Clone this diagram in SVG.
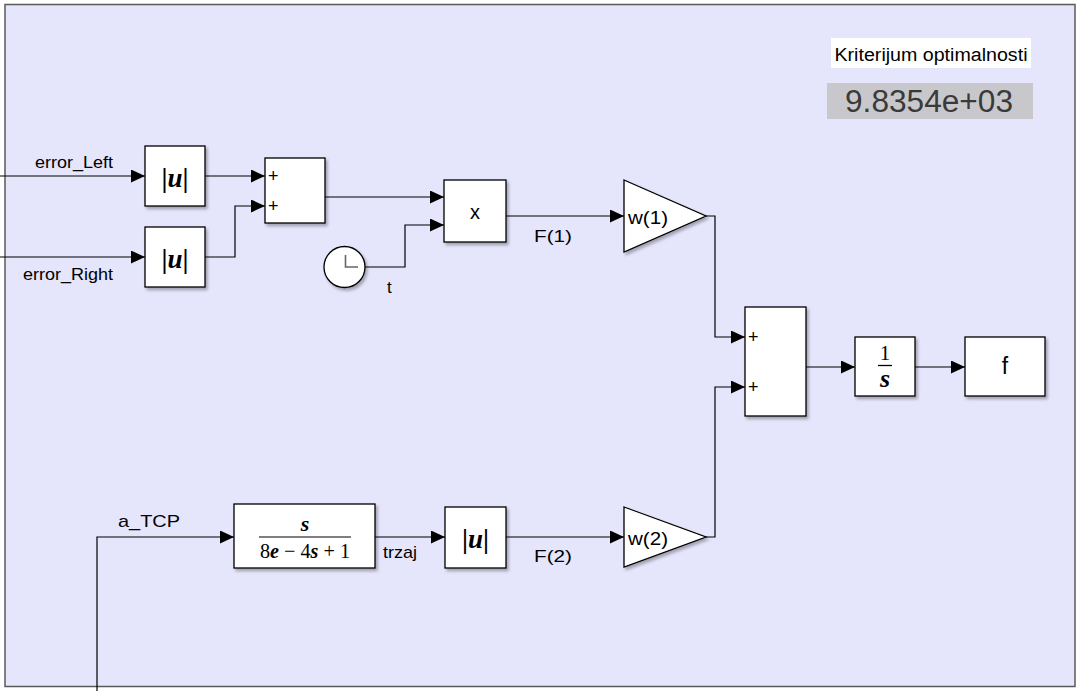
<svg xmlns="http://www.w3.org/2000/svg" width="1081" height="691" viewBox="0 0 1081 691">
  <defs>
    <style>
      .blk { fill: #ffffff; stroke: #000000; stroke-width: 1.3; filter: url(#shadow); }
      .wire { fill: none; stroke: #000000; stroke-width: 1.2; marker-end: url(#arrow); }
      .lbl { font-family: "Liberation Sans", Arial, sans-serif; fill: #000000; }
      .sig { font-size: 17px; }
      .sign { font-family: "Liberation Sans", Arial, sans-serif; font-size: 18px; fill: #000000; }
      .math { font-family: "Liberation Serif", "Times New Roman", serif; fill: #000000; }
      .mi { font-style: italic; font-weight: bold; }
    </style>
    <marker id="arrow" viewBox="0 0 14 13" refX="14" refY="6.5" markerWidth="14" markerHeight="13" markerUnits="userSpaceOnUse" orient="auto">
      <path d="M0,0 L14,6.5 L0,13 Z" fill="#000000"/>
    </marker>
    <filter id="shadow" x="-20%" y="-20%" width="150%" height="150%">
      <feDropShadow dx="2" dy="2.5" stdDeviation="1.5" flood-color="#000000" flood-opacity="0.3"/>
    </filter>
  </defs>

  <!-- model canvas -->
  <rect x="0" y="0" width="1081" height="691" fill="#ffffff"/>
  <rect x="5" y="4.5" width="1070" height="682" fill="#e5e5fc" stroke="#5a5a5a" stroke-width="1.5"/>

  <!-- signal lines -->
  <g id="connectors">
    <path class="wire" d="M0,176 H145"/>
    <path class="wire" d="M0,257 H145"/>
    <path class="wire" d="M205,176 H265"/>
    <path class="wire" d="M205,257 H235 V206 H265"/>
    <path class="wire" d="M325,197 H444"/>
    <path class="wire" d="M365,267 H405 V225 H444"/>
    <path class="wire" d="M506,216 H624"/>
    <path class="wire" d="M706,216 H715 V337 H745"/>
    <path class="wire" d="M706,537 H715 V387 H745"/>
    <path class="wire" d="M806,367 H855"/>
    <path class="wire" d="M915,367 H965"/>
    <path class="wire" d="M97,691 V537 H234"/>
    <path class="wire" d="M375,537 H445"/>
    <path class="wire" d="M506,537 H624"/>

    <text class="lbl sig" x="35" y="168" textLength="78" lengthAdjust="spacingAndGlyphs">error_Left</text>
    <text class="lbl sig" x="23" y="280" textLength="90" lengthAdjust="spacingAndGlyphs">error_Right</text>
    <text class="lbl sig" x="387" y="293">t</text>
    <text class="lbl sig" x="534" y="242" textLength="38" lengthAdjust="spacingAndGlyphs">F(1)</text>
    <text class="lbl sig" x="534" y="562" textLength="38" lengthAdjust="spacingAndGlyphs">F(2)</text>
    <text class="lbl sig" x="383" y="558" textLength="34" lengthAdjust="spacingAndGlyphs">trzaj</text>
    <text class="lbl sig" x="118" y="527" textLength="62" lengthAdjust="spacingAndGlyphs">a_TCP</text>
  </g>

  <!-- |u| on error_Left -->
  <g id="abs1">
    <rect class="blk" x="145" y="146" width="60" height="60"/>
    <text class="math" x="175" y="187" font-size="27" text-anchor="middle"><tspan font-weight="bold">|</tspan><tspan class="mi">u</tspan><tspan font-weight="bold">|</tspan></text>
  </g>

  <!-- |u| on error_Right -->
  <g id="abs2">
    <rect class="blk" x="145" y="227" width="60" height="60"/>
    <text class="math" x="175" y="268" font-size="27" text-anchor="middle"><tspan font-weight="bold">|</tspan><tspan class="mi">u</tspan><tspan font-weight="bold">|</tspan></text>
  </g>

  <!-- sum of absolute errors -->
  <g id="sum1">
    <rect class="blk" x="265" y="158" width="60" height="65"/>
    <text class="sign" x="268" y="182">+</text>
    <text class="sign" x="268" y="212">+</text>
  </g>

  <!-- clock -->
  <g id="clock">
    <circle cx="344.5" cy="267" r="20.5" fill="#ffffff" stroke="#000000" stroke-width="1.3" filter="url(#shadow)"/>
    <path d="M345.5,255 V267 H358" fill="none" stroke="#666666" stroke-width="1.6"/>
  </g>

  <!-- product -->
  <g id="product">
    <rect class="blk" x="444" y="180" width="62" height="62"/>
    <text class="lbl" x="475" y="219" style="font-size:20px" text-anchor="middle">x</text>
  </g>

  <!-- gain w(1) -->
  <g id="gain1">
    <polygon class="blk" points="624,180 706,216 624,252"/>
    <text class="lbl" x="628" y="224" style="font-size:19px" textLength="40" lengthAdjust="spacingAndGlyphs">w(1)</text>
  </g>

  <!-- transfer function -->
  <g id="tf">
    <rect class="blk" x="234" y="504" width="141" height="64"/>
    <text class="math mi" x="305" y="531" font-size="22" text-anchor="middle">s</text>
    <line x1="259" y1="537" x2="351" y2="537" stroke="#000000" stroke-width="1.2"/>
    <text class="math" x="305" y="558" font-size="21" text-anchor="middle" textLength="90" lengthAdjust="spacingAndGlyphs">8<tspan class="mi">e</tspan> − 4<tspan class="mi">s</tspan> + 1</text>
  </g>

  <!-- |u| on trzaj -->
  <g id="abs3">
    <rect class="blk" x="445" y="507" width="61" height="61"/>
    <text class="math" x="475.5" y="548" font-size="27" text-anchor="middle"><tspan font-weight="bold">|</tspan><tspan class="mi">u</tspan><tspan font-weight="bold">|</tspan></text>
  </g>

  <!-- gain w(2) -->
  <g id="gain2">
    <polygon class="blk" points="624,507 706,537 624,567"/>
    <text class="lbl" x="628" y="545" style="font-size:19px" textLength="40" lengthAdjust="spacingAndGlyphs">w(2)</text>
  </g>

  <!-- weighted sum -->
  <g id="sum2">
    <rect class="blk" x="745" y="307" width="61" height="109"/>
    <text class="sign" x="748" y="343">+</text>
    <text class="sign" x="748" y="393">+</text>
  </g>

  <!-- integrator -->
  <g id="integrator">
    <rect class="blk" x="855" y="337" width="60" height="59"/>
    <text class="math" x="885" y="360" font-size="21" text-anchor="middle">1</text>
    <line x1="878" y1="365.5" x2="892" y2="365.5" stroke="#000000" stroke-width="1.3"/>
    <text class="math mi" x="885" y="387" font-size="26" text-anchor="middle">s</text>
  </g>

  <!-- output f -->
  <g id="out_f">
    <rect class="blk" x="965" y="337" width="80" height="59"/>
    <text class="lbl" x="1005" y="374" style="font-size:23px" text-anchor="middle">f</text>
  </g>

  <!-- display of the criterion -->
  <g id="display">
    <rect x="831" y="38" width="200" height="30" fill="#ffffff"/>
    <text class="lbl" x="931" y="61" style="font-size:18px" text-anchor="middle" textLength="193" lengthAdjust="spacingAndGlyphs">Kriterijum optimalnosti</text>
    <rect x="827" y="83" width="206" height="36" fill="#c8c8cc"/>
    <text class="lbl" x="929" y="112" style="font-size:31px; fill:#3a3a3a" text-anchor="middle" textLength="168" lengthAdjust="spacingAndGlyphs">9.8354e+03</text>
  </g>
</svg>
